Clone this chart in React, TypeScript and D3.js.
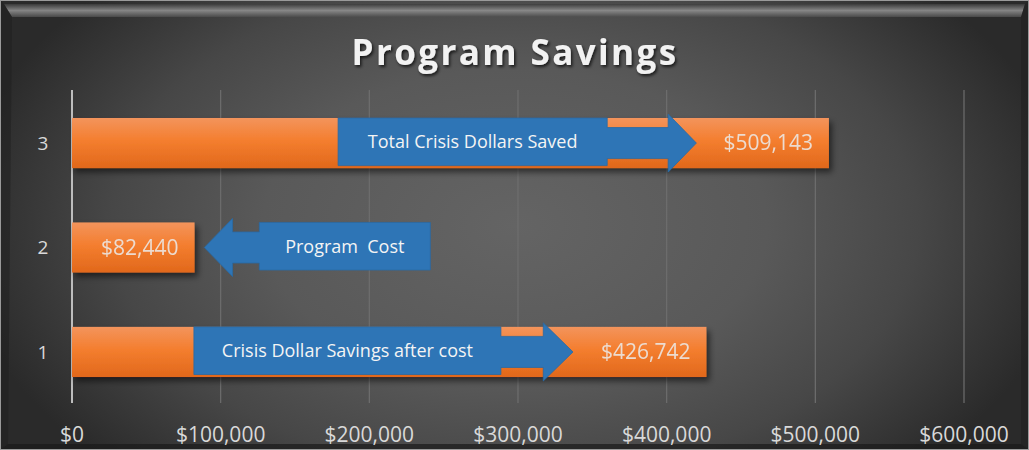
import React from "react";
import * as d3 from "d3";

const categories = ["1", "2", "3"];
const values = [426742, 82440, 509143];
const xTickValues = [0, 100000, 200000, 300000, 400000, 500000, 600000];
const title = "Program Savings";

// Callout arrows, positioned in data units (x) on the category band
const arrowCategories = ["3", "2", "1"];
const arrowLabels = ["Total Crisis Dollars Saved", "Program  Cost", "Crisis Dollar Savings after cost"];
const arrowDirections = ["right", "left", "right"];
const arrowBoxStart = [179000, 126000, 82000];
const arrowBoxEnd = [360000, 241000, 288500];
const arrowShaftEnd = [401000, 108000, 317000];
const arrowTip = [420000, 89000, 337000];

const W = 1029;
const H = 450;

export default function App() {
  const x = d3.scaleLinear().domain([0, 600000]).range([72, 964]);
  const y = d3
    .scaleBand<string>()
    .domain(["3", "2", "1"])
    .range([90, 405])
    .paddingInner(0.52)
    .paddingOuter(0.268);
  const bw = y.bandwidth();
  const fmt = (v: number) => "$" + d3.format(",")(v);
  const font = "'Open Sans', 'Liberation Sans', sans-serif";

  const arrows = arrowCategories.map((c, i) => {
    const cy = (y(c) as number) + bw / 2;
    const x0 = x(arrowBoxStart[i]);
    const x1 = x(arrowBoxEnd[i]);
    const xs = x(arrowShaftEnd[i]);
    const xt = x(arrowTip[i]);
    const rTop = cy - bw * 0.5 + 0;
    const rBot = cy + bw * 0.45;
    const sh = bw * 0.31;
    const hh = bw * 0.58;
    let path: string;
    if (arrowDirections[i] === "right") {
      path = [
        `M${x0},${rTop}`,
        `L${x1},${rTop}`,
        `L${x1},${cy - sh}`,
        `L${xs},${cy - sh}`,
        `L${xs},${cy - hh}`,
        `L${xt},${cy}`,
        `L${xs},${cy + hh}`,
        `L${xs},${cy + sh}`,
        `L${x1},${cy + sh}`,
        `L${x1},${rBot}`,
        `L${x0},${rBot}`,
        "Z",
      ].join(" ");
    } else {
      path = [
        `M${x1},${rTop}`,
        `L${x0},${rTop}`,
        `L${x0},${cy - sh}`,
        `L${xs},${cy - sh}`,
        `L${xs},${cy - hh}`,
        `L${xt},${cy}`,
        `L${xs},${cy + hh}`,
        `L${xs},${cy + sh}`,
        `L${x0},${cy + sh}`,
        `L${x0},${rBot}`,
        `L${x1},${rBot}`,
        "Z",
      ].join(" ");
    }
    return { path, tx: (x0 + x1) / 2, ty: (rTop + rBot) / 2, label: arrowLabels[i] };
  });

  return (
    <svg
      width={W}
      height={H}
      style={{ position: "absolute", left: 0, top: 0, display: "block" }}
    >
      <defs>
        <radialGradient
          id="bg"
          gradientUnits="userSpaceOnUse"
          cx={515}
          cy={225}
          r={560}
          gradientTransform="translate(0,225) scale(1,0.62) translate(0,-225)"
        >
          <stop offset="0%" stopColor="#646464" />
          <stop offset="45%" stopColor="#595959" />
          <stop offset="72%" stopColor="#474747" />
          <stop offset="100%" stopColor="#2a2a2a" />
        </radialGradient>
        <linearGradient id="bevelTop" x1="0" y1="0" x2="0" y2="1">
          <stop offset="0%" stopColor="#3c3c3c" />
          <stop offset="50%" stopColor="#8e8e8e" />
          <stop offset="100%" stopColor="#4c4c4c" />
        </linearGradient>
        <linearGradient id="barGrad" x1="0" y1="0" x2="0" y2="1">
          <stop offset="0%" stopColor="#f3945c" />
          <stop offset="45%" stopColor="#f47e2f" />
          <stop offset="100%" stopColor="#e1681b" />
        </linearGradient>
        <filter id="shadow" x="-5%" y="-20%" width="115%" height="160%">
          <feDropShadow dx="3" dy="4" stdDeviation="3" floodColor="#000" floodOpacity="0.55" />
        </filter>
        <filter id="tshadow" x="-10%" y="-30%" width="120%" height="170%">
          <feDropShadow dx="1.5" dy="2" stdDeviation="1.5" floodColor="#000" floodOpacity="0.7" />
        </filter>
      </defs>

      {/* frame */}
      <rect x={0} y={0} width={W} height={H} fill="#9a9a9a" />
      <rect x={1} y={1} width={W - 2} height={H - 2} fill="url(#bg)" />
      <path
        d={`M4,4 L${W - 4},4 L${W - 8},17 L12,17 Z`}
        fill="url(#bevelTop)"
        opacity={0.9}
      />
      <path d={`M1,1 L4,4 L12,17 L8,${H - 6} L1,${H - 1} Z`} fill="#1e1e1e" opacity={0.5} />
      <path d={`M${W - 1},1 L${W - 4},4 L${W - 8},17 L${W - 8},${H - 6} L${W - 1},${H - 1} Z`} fill="#1e1e1e" opacity={0.5} />
      <path d={`M1,${H - 1} L8,${H - 6} L${W - 8},${H - 6} L${W - 1},${H - 1} Z`} fill="#1a1a1a" opacity={0.7} />

      {/* title */}
      <text
        x={515}
        y={65}
        textAnchor="middle"
        fontFamily={font}
        fontWeight="bold"
        fontSize={35}
        letterSpacing={2.4}
        fill="#f2f2f2"
        filter="url(#tshadow)"
      >
        {title}
      </text>

      {/* gridlines */}
      {xTickValues.map((t) => (
        <line
          key={"g" + t}
          x1={x(t)}
          x2={x(t)}
          y1={90}
          y2={403}
          stroke={t === 0 ? "#bdbdbd" : "#6e6e6e"}
          strokeWidth={t === 0 ? 2 : 1.2}
        />
      ))}

      {/* x tick labels */}
      {xTickValues.map((t) => (
        <text
          key={"t" + t}
          x={x(t)}
          y={442}
          textAnchor="middle"
          fontFamily={font}
          fontSize={21}
          fill="#d9d9d9"
        >
          {fmt(t)}
        </text>
      ))}

      {/* category labels */}
      {categories.map((c) => (
        <text
          key={"c" + c}
          x={43}
          y={(y(c) as number) + bw / 2}
          dy="0.35em"
          textAnchor="middle"
          fontFamily={font}
          fontSize={19}
          fill="#d9d9d9"
        >
          {c}
        </text>
      ))}

      {/* bars */}
      {categories.map((c, i) => (
        <rect
          key={"b" + c}
          x={x(0)}
          y={y(c) as number}
          width={x(values[i]) - x(0)}
          height={bw}
          fill="url(#barGrad)"
          filter="url(#shadow)"
        />
      ))}

      {/* arrows */}
      {arrows.map((a, i) => (
        <g key={"a" + i}>
          <path d={a.path} fill="#2e75b6" stroke="#2a69a3" strokeWidth={0.8} />
          <text
            x={a.tx}
            y={a.ty}
            dy="0.35em"
            textAnchor="middle"
            fontFamily={font}
            fontSize={18}
            fill="#f4f4f4"
            style={{ whiteSpace: "pre" }}
          >
            {a.label}
          </text>
        </g>
      ))}

      {/* value labels */}
      {categories.map((c, i) => (
        <text
          key={"v" + c}
          x={x(values[i]) - 16}
          y={(y(c) as number) + bw / 2}
          dy="0.35em"
          textAnchor="end"
          fontFamily={font}
          fontSize={21}
          fill="#ece4de"
          opacity={0.92}
        >
          {fmt(values[i])}
        </text>
      ))}
    </svg>
  );
}
